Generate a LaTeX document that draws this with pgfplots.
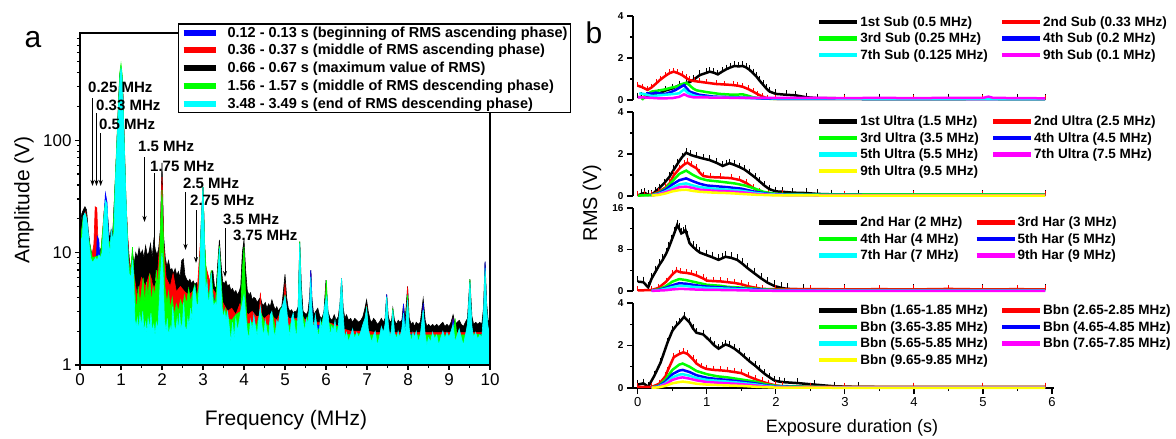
\documentclass[border=0pt]{standalone}
\usepackage{fontspec}
\setmainfont{Liberation Sans}
\usepackage{pgfplots}
\pgfplotsset{compat=1.18}
\usetikzlibrary{arrows.meta}
\definecolor{cblue}{RGB}{0,0,255}
\definecolor{cred}{RGB}{255,0,0}
\definecolor{cgreen}{RGB}{0,255,0}
\definecolor{ccyan}{RGB}{0,255,255}
\definecolor{cmag}{RGB}{255,0,255}
\definecolor{cyel}{RGB}{255,255,0}

% ---------- left panel spectra (frequency MHz, amplitude V) ----------
\pgfplotstableread{
f A
0.00 14
0.04 22
0.08 24
0.12 25.6
0.16 24
0.20 16
0.24 12
0.28 10
0.32 10
0.36 10.5
0.40 9.5
0.44 10
0.48 10.5
0.52 11
0.56 15
0.60 26
0.64 28
0.68 20
0.72 13
0.76 16
0.80 15
0.84 30
0.90 90
0.95 250
1.00 430
1.04 320
1.08 100
1.12 30
1.16 14
1.20 9
1.24 7
1.28 10
1.32 8
1.36 10
1.40 9
1.44 11
1.48 9.5
1.52 10.5
1.56 9
1.60 11.5
1.64 9.5
1.68 10
1.72 12
1.76 9
1.80 13
1.84 10.5
1.88 9.5
1.92 11
1.96 16
2.00 63
2.04 14
2.08 9
2.12 7.5
2.16 8.5
2.20 7
2.24 7.2
2.28 6.5
2.32 7.2
2.36 6.3
2.40 6.8
2.44 6.0
2.48 8.5
2.52 8.8
2.56 6.3
2.60 5.8
2.64 5.5
2.68 5.8
2.72 5.3
2.76 5.6
2.80 5.2
2.84 5.4
2.88 5.0
2.92 6.5
2.96 20
3.00 38
3.04 12
3.08 6
3.12 5.0
3.16 5.3
3.20 6.8
3.24 6.9
3.28 5.0
3.32 4.8
3.36 8
3.40 13
3.44 8
3.48 5.5
3.52 5.3
3.56 5.6
3.60 5.0
3.64 5.2
3.68 4.6
3.72 4.8
3.76 4.4
3.80 4.6
3.84 4.2
3.88 4.5
3.92 5.0
3.96 10
4.00 13
4.04 7
4.08 4.6
4.12 4.2
4.16 4.4
4.20 3.8
4.24 4.0
4.28 3.9
4.32 3.6
4.36 3.8
4.40 4.0
4.44 3.5
4.48 3.4
4.52 3.6
4.56 3.2
4.60 3.5
4.64 3.3
4.68 3.8
4.72 3.4
4.76 3.1
4.80 3.3
4.84 3.0
4.88 3.2
4.92 3.3
4.96 4.5
5.00 6.4
5.04 4.0
5.08 3.2
5.12 3.0
5.16 3.1
5.20 2.9
5.24 3.0
5.28 3.0
5.32 3.3
5.36 12.5
5.40 5
5.44 3.0
5.48 2.9
5.52 2.8
5.56 3.0
5.60 4.0
5.63 7.0
5.66 3.8
5.70 2.8
5.75 3.0
5.80 3.2
5.85 2.7
5.90 2.6
5.95 3.0
6.00 5.7
6.05 3.0
6.10 2.6
6.15 2.5
6.20 2.8
6.25 2.5
6.30 2.7
6.34 3.5
6.38 5.9
6.42 3.2
6.46 2.6
6.50 2.8
6.55 2.5
6.60 2.6
6.65 2.4
6.70 2.6
6.75 2.5
6.80 2.4
6.85 2.5
6.90 2.7
6.95 3.2
6.99 3.8
7.03 3.0
7.08 2.5
7.12 2.4
7.16 2.6
7.20 2.5
7.25 2.3
7.30 2.4
7.35 2.6
7.40 2.4
7.44 2.6
7.48 4.25
7.52 2.7
7.56 2.4
7.60 2.5
7.63 3.2
7.67 2.5
7.72 2.3
7.76 2.5
7.80 2.4
7.85 2.5
7.89 3.5
7.93 2.5
7.99 5.0
8.03 2.6
8.08 2.3
8.12 2.4
8.16 2.2
8.20 2.4
8.25 2.3
8.30 2.4
8.37 3.9
8.42 2.5
8.46 2.2
8.50 2.3
8.55 2.2
8.60 2.3
8.65 2.2
8.70 2.3
8.75 2.2
8.80 2.3
8.85 2.4
8.90 2.2
8.95 2.3
9.00 2.2
9.05 2.4
9.10 2.8
9.15 2.3
9.20 2.4
9.25 2.5
9.30 2.3
9.35 2.2
9.40 2.4
9.45 2.6
9.51 5.8
9.56 2.7
9.60 2.3
9.65 2.4
9.70 2.3
9.75 2.4
9.80 2.3
9.84 3.2
9.88 8.3
9.92 3.5
9.96 2.4
10.0 2.6
}\specblack

\pgfplotstableread{
f A
0.00 12
0.08 20
0.14 23
0.20 14
0.28 9
0.34 12
0.37 25.6
0.41 25
0.44 12
0.50 9
0.60 26
0.70 12
0.80 14
0.86 40
0.92 140
0.97 380
1.00 440
1.03 360
1.07 110
1.12 28
1.20 8
1.30 7
1.40 4
1.50 6
1.60 5
1.70 6.5
1.80 5
1.90 7
1.96 15
2.00 47
2.04 12
2.10 6
2.20 5
2.27 6.5
2.35 4.5
2.45 5
2.55 4.5
2.65 4.2
2.75 4.5
2.85 4
2.95 15
3.00 38
3.05 8
3.20 5
3.37 4
3.40 10
3.43 4
3.50 3.5
3.60 3
3.70 3.2
3.80 2.8
3.90 3.5
3.96 3
4.00 9
4.04 3
4.10 2.8
4.20 3
4.30 2.7
4.37 2.7
4.40 4.4
4.43 2.7
4.50 2.6
4.60 2.8
4.70 2.7
4.80 2.5
4.90 3.0
4.96 3
5.00 5.3
5.04 2.8
5.10 2.6
5.33 2.6
5.36 11
5.39 2.6
5.45 2.6
5.60 2.4
5.63 6.5
5.66 2.4
5.80 2.4
5.97 2.4
6.00 5
6.03 2.4
6.20 2.3
6.35 2.2
6.38 5.5
6.41 2.1
6.60 2.0
6.96 2.0
6.99 3.4
7.02 2.0
7.20 1.95
7.45 1.95
7.48 4.0
7.51 1.95
7.70 1.95
7.96 1.95
7.99 5.0
8.02 1.95
8.10 1.95
8.34 1.95
8.37 3.3
8.40 1.95
8.60 1.95
9.00 1.95
9.07 1.95
9.10 2.6
9.13 1.95
9.30 1.95
9.48 1.95
9.51 5.2
9.54 1.95
9.70 1.95
9.85 1.95
9.88 7
9.91 1.95
10.0 2.1
}\specred

\pgfplotstableread{
f A
0.00 11
0.08 19
0.14 21
0.20 14
0.28 9
0.36 8.8
0.40 9
0.42 14
0.46 13
0.48 9
0.50 9.5
0.56 15
0.62 33.8
0.66 28
0.70 12
0.80 14
0.86 40
0.92 140
0.97 380
1.00 420
1.03 350
1.07 100
1.12 25
1.20 7
1.30 6
1.34 2.2
1.45 2.6
1.52 1.9
1.60 2.5
1.70 2.3
1.80 2.0
1.90 3
1.97 6
2.00 9
2.04 4
2.10 2.0
2.20 2.3
2.30 1.9
2.40 2.5
2.50 2.0
2.60 2.4
2.70 2.2
2.80 3.5
2.90 4
2.95 15
3.00 38
3.05 8
3.10 4
3.20 5
3.30 3.5
3.37 4
3.40 10.5
3.43 4
3.50 2.8
3.60 2.4
3.70 2.2
3.80 2.0
3.90 2.6
3.96 3
4.00 4.9
4.04 2.6
4.10 2.2
4.30 2.1
4.60 2.0
4.80 2.1
4.96 2.4
5.00 4
5.04 2.2
5.10 2.0
5.32 2.0
5.36 11
5.40 2.4
5.45 2.3
5.59 2.2
5.63 7.0
5.67 2.3
5.70 2.3
5.96 2.2
6.00 4
6.04 2.1
6.10 2.0
6.34 2.0
6.38 5.5
6.42 1.8
6.50 1.8
6.95 1.8
6.99 3.2
7.03 1.8
7.20 1.8
7.44 1.8
7.48 4.25
7.52 1.9
7.55 1.8
7.85 1.8
7.89 3.5
7.93 1.9
8.33 1.8
8.37 3.55
8.41 1.8
8.45 1.8
9.06 1.8
9.10 2.6
9.14 1.8
9.20 1.8
9.47 1.8
9.51 5.3
9.55 1.8
9.60 1.8
9.84 1.9
9.88 8.3
9.92 2.2
9.95 1.9
10.0 2.1
}\specblue

\pgfplotstableread{
f A
0.00 12
0.08 21
0.14 22
0.20 14
0.30 9
0.50 9.5
0.60 25
0.70 12
0.80 14
0.86 45
0.92 150
0.97 400
1.00 480
1.03 380
1.07 120
1.12 30
1.18 9
1.22 6.5
1.25 8
1.28 11.2
1.31 7
1.34 4.5
1.38 3.0
1.42 5
1.46 3.5
1.50 4.5
1.54 6
1.58 3.5
1.62 5.5
1.66 4
1.70 6.5
1.74 3.5
1.78 5
1.82 4
1.86 7
1.90 5
1.94 9
1.97 20
2.00 36
2.03 15
2.07 5
2.12 3.5
2.16 4.5
2.20 3.2
2.25 4
2.30 2.8
2.35 3.5
2.40 3
2.45 3.8
2.50 3.3
2.55 4.2
2.60 3.5
2.65 4.8
2.70 3.6
2.75 4.5
2.80 5.2
2.85 4
2.90 5
2.95 15
3.00 38.5
3.04 12
3.10 5
3.15 4
3.20 7
3.25 4
3.30 3.5
3.36 6.5
3.40 11.5
3.45 5
3.50 2.8
3.55 3.2
3.60 2.6
3.70 2.5
3.80 2.8
3.92 3.0
3.96 7
4.00 11.2
4.04 4
4.08 2.3
4.20 2.4
4.30 2.2
4.40 3
4.50 2.4
4.60 2.2
4.70 2.8
4.80 1.8
4.90 3.2
4.96 2.6
5.00 4.2
5.04 2.4
5.10 2.2
5.20 2.6
5.32 2.4
5.36 12.5
5.40 3
5.50 2.3
5.60 3
5.70 2.2
5.80 2.0
5.90 2.4
5.97 3
6.01 5.7
6.05 2.4
6.20 2.2
6.34 2.2
6.38 5.5
6.42 1.9
6.60 1.85
6.80 1.9
6.95 1.85
6.99 3.3
7.03 1.85
7.30 1.85
7.44 1.85
7.48 4.0
7.52 1.9
7.60 1.85
7.63 3.2
7.66 1.85
7.95 1.85
7.99 4.2
8.03 1.85
8.33 1.85
8.37 3.0
8.41 1.85
8.70 1.85
9.00 1.85
9.11 1.85
9.15 2.6
9.19 1.85
9.30 1.85
9.47 1.85
9.51 5.8
9.55 1.9
9.84 1.85
9.88 6.5
9.92 1.9
10.0 2.1
}\specgreen

\pgfplotstableread{
f A
0.00 12
0.03 13
0.06 14
0.08 21
0.12 22.5
0.16 20
0.19 17
0.22 12
0.26 9
0.30 8.2
0.34 8.5
0.38 9
0.42 8.5
0.46 9.5
0.50 9
0.54 10
0.58 20
0.62 29
0.66 27
0.70 12
0.73 9.5
0.76 16
0.80 13
0.83 15
0.86 40
0.90 90
0.94 200
0.98 380
1.00 437
1.02 400
1.05 200
1.08 90
1.11 40
1.14 20
1.17 9
1.20 6.5
1.24 6
1.28 8.6
1.31 6
1.34 2.5
1.37 2.2
1.40 2.6
1.43 2.0
1.46 2.8
1.50 2.2
1.53 3.0
1.56 2.0
1.60 2.4
1.63 1.9
1.66 2.6
1.70 2.1
1.73 2.9
1.76 2.0
1.80 2.3
1.83 1.8
1.86 2.4
1.90 2.1
1.93 3.5
1.96 6
2.00 9.9
2.03 6
2.06 2.5
2.10 2.0
2.13 2.6
2.16 1.8
2.20 2.2
2.23 1.9
2.26 3.3
2.30 2.2
2.33 2.0
2.37 2.6
2.40 2.0
2.43 2.9
2.46 2.1
2.50 2.4
2.53 3.6
2.56 2.2
2.60 2.0
2.63 2.6
2.66 2.2
2.70 3.2
2.73 2.4
2.76 4.5
2.80 5
2.84 3.5
2.88 3.4
2.92 6
2.96 20
3.00 38.5
3.03 15
3.06 4.5
3.10 5.5
3.13 3.5
3.16 4
3.20 6.6
3.23 4
3.26 3.3
3.30 3.6
3.33 3.2
3.36 6
3.40 11
3.43 6
3.46 3.3
3.50 2.6
3.53 3.0
3.56 2.5
3.60 3.0
3.64 2.2
3.68 1.6
3.72 2.4
3.76 1.7
3.80 2.6
3.84 2.0
3.88 2.4
3.92 3.0
3.96 3.5
4.00 4.2
4.04 2.8
4.08 2.0
4.12 1.7
4.16 2.5
4.20 2.0
4.24 2.8
4.28 2.2
4.32 1.8
4.36 2.6
4.40 3.3
4.44 2.2
4.48 1.8
4.52 2.5
4.56 2.0
4.60 1.7
4.64 2.8
4.68 3.0
4.72 2.0
4.76 1.8
4.80 2.5
4.84 2.3
4.88 3.0
4.92 3.2
4.96 3.6
5.00 4.1
5.04 3.2
5.08 2.2
5.12 1.8
5.16 2.6
5.20 2.9
5.24 2.2
5.28 1.7
5.32 3.0
5.36 12.1
5.40 4
5.44 2.4
5.48 2.0
5.52 2.6
5.56 2.3
5.60 3.5
5.63 6.1
5.66 3
5.70 2.0
5.74 2.8
5.78 2.2
5.82 1.7
5.86 2.5
5.90 2.1
5.94 2.8
5.98 3.6
6.02 4.1
6.06 2.6
6.10 1.8
6.14 2.2
6.18 2.0
6.22 2.5
6.26 1.8
6.30 2.2
6.34 3.5
6.38 5.9
6.42 2.8
6.46 1.7
6.50 1.95
6.55 1.6
6.60 1.85
6.65 2.1
6.70 1.7
6.75 1.95
6.80 1.75
6.85 2.0
6.90 2.3
6.95 2.6
6.99 3.2
7.03 2.1
7.08 1.75
7.12 1.6
7.16 1.85
7.20 2.0
7.25 1.5
7.30 1.75
7.35 2.2
7.40 1.95
7.44 2.3
7.48 4.05
7.52 2.3
7.56 1.75
7.60 2.1
7.63 3.1
7.67 1.95
7.72 1.7
7.76 2.0
7.80 1.75
7.85 2.1
7.89 2.9
7.93 1.95
7.99 3.8
8.03 2.1
8.08 1.6
8.12 1.95
8.16 1.75
8.20 2.0
8.25 1.6
8.30 1.85
8.37 3.1
8.42 1.85
8.46 1.5
8.50 1.75
8.55 1.6
8.60 1.95
8.65 1.7
8.70 1.85
8.75 1.5
8.80 1.75
8.85 2.0
8.90 1.7
8.95 1.95
9.00 1.75
9.05 2.0
9.10 2.3
9.15 1.6
9.20 1.85
9.25 2.1
9.30 1.75
9.35 1.5
9.40 1.85
9.45 2.3
9.51 5.5
9.56 2.2
9.60 1.75
9.65 1.95
9.70 1.7
9.75 1.85
9.80 1.75
9.84 2.8
9.88 7.3
9.92 3.2
9.96 2.0
10.0 2.3
}\speccyan

\pgfplotsset{
  rsub/.style={scale only axis, width=421pt, height=84pt, xmin=-0.07, xmax=6.03, ymin=0,
    axis y line*=left, clip=false, no markers,
    tick align=outside, major tick length=6pt, minor tick length=3pt,
    tick style={line width=1.2pt, black}, axis line style={line width=1.5pt},
    yticklabel style={font=\fontsize{10}{12}\bfseries\selectfont},
    every axis plot/.append style={line width=2.5pt},
    legend columns=2, legend cell align=left,
    legend image code/.code={\draw[##1, line width=4.5pt] (0pt,0pt) -- (38pt,0pt);},
    legend style={draw=none, fill=none, anchor=north west, inner sep=0pt,
      font=\fontsize{13.5}{16}\bfseries\selectfont, row sep=3.6pt,
      nodes={inner sep=0.8pt},
      /tikz/every even column/.append style={column sep=11pt}}},
  ebar/.style={error bars/.cd, y dir=plus, y fixed=#1,
      error bar style={line width=1pt}, error mark options={line width=1pt, mark size=2.5pt}},
}

\begin{document}
\begin{tikzpicture}
\path[use as bounding box] (0pt,0pt) rectangle (1176pt,-439pt);

% ================= left panel =================
\begin{axis}[at={(80pt,-33pt)}, anchor=north west, scale only axis,
  width=410pt, height=332pt, ymode=log, ymin=1, ymax=900, xmin=0, xmax=10,
  axis on top, axis line style={line width=1.5pt},
  tick align=outside, xtick pos=bottom, ytick pos=left,
  major tick length=5pt, minor tick length=3pt, tick style={line width=1.2pt, black},
  xtick={0,1,2,3,4,5,6,7,8,9,10}, xticklabels={0,1,2,3,4,5,6,7,8,9,10},
  minor xtick={0.5,1.5,2.5,3.5,4.5,5.5,6.5,7.5,8.5,9.5},
  ytick={1,10,100}, yticklabels={1,10,100},
  minor ytick={2,3,4,5,6,7,8,9,20,30,40,50,60,70,80,90,200,300,400,500,600,700,800},
  ticklabel style={font=\fontsize{17}{19}\selectfont},
  legend cell align=left,
  legend image code/.code={\draw[#1, line width=6pt] (0pt,0pt) -- (32pt,0pt);},
  legend style={at={(0.239,1.03)}, anchor=north west, draw=black, line width=1.5pt,
    fill=white, inner sep=2pt, row sep=4.2pt,
    font=\fontsize{14.5}{16}\bfseries\selectfont, nodes={inner sep=0.8pt},
    /tikz/every odd column/.append style={column sep=8pt}},
]
\addplot[forget plot, fill=black, draw=black, line width=0.6pt] table[x=f,y=A] {\specblack} \closedcycle;
\addplot[forget plot, fill=cred, draw=cred, line width=0.6pt] table[x=f,y=A] {\specred} \closedcycle;
\addplot[forget plot, fill=cblue, draw=cblue, line width=0.6pt] table[x=f,y=A] {\specblue} \closedcycle;
\addplot[forget plot, fill=cgreen, draw=cgreen, line width=0.6pt] table[x=f,y=A] {\specgreen} \closedcycle;
\addplot[forget plot, fill=ccyan, draw=ccyan, line width=0.6pt] table[x=f,y=A] {\speccyan} \closedcycle;
\addlegendimage{cblue}
\addlegendentry{0.12 - 0.13 s (beginning of RMS ascending phase)}
\addlegendimage{cred}
\addlegendentry{0.36 - 0.37 s (middle of RMS ascending phase)}
\addlegendimage{black}
\addlegendentry{0.66 - 0.67 s (maximum value of RMS)}
\addlegendimage{cgreen}
\addlegendentry{1.56 - 1.57 s (middle of RMS descending phase)}
\addlegendimage{ccyan}
\addlegendentry{3.48 - 3.49 s (end of RMS descending phase)}
\end{axis}

% annotations
\begin{scope}[every node/.style={anchor=west, inner sep=0pt, font=\fontsize{15}{17}\bfseries\selectfont}]
\node at (88pt,-87pt) {0.25 MHz};
\node at (96pt,-105pt) {0.33 MHz};
\node at (99pt,-124pt) {0.5 MHz};
\node at (138pt,-146pt) {1.5 MHz};
\node at (150pt,-166pt) {1.75 MHz};
\node at (183pt,-183pt) {2.5 MHz};
\node at (190pt,-200pt) {2.75 MHz};
\node at (223pt,-219pt) {3.5 MHz};
\node at (233pt,-235pt) {3.75 MHz};
\end{scope}
\begin{scope}[line width=1pt, -{Stealth[length=6pt,width=4pt]}]
\draw (92.5pt,-98pt) -- (92.5pt,-186pt);
\draw (96.5pt,-113pt) -- (96.5pt,-186pt);
\draw (100.7pt,-133pt) -- (100.7pt,-186pt);
\draw (144.5pt,-157pt) -- (144.5pt,-222pt);
\draw (154pt,-173pt) -- (154pt,-287pt);
\draw (185.5pt,-192pt) -- (185.5pt,-250pt);
\draw (196pt,-210pt) -- (196pt,-263pt);
\draw (225pt,-228pt) -- (225pt,-277pt);
\end{scope}

\node[font=\fontsize{30}{32}\selectfont] at (33pt,-40pt) {a};
\node[font=\fontsize{21}{23}\selectfont] at (286pt,-420pt) {Frequency (MHz)};
\node[font=\fontsize{21}{23}\selectfont, rotate=90] at (24pt,-200pt) {Amplitude (V)};

% ================= right panel =================
\node[font=\fontsize{30}{32}\selectfont] at (594pt,-33pt) {b};
\node[font=\fontsize{20}{22}\selectfont, rotate=90] at (592pt,-203pt) {RMS (V)};
\node[font=\fontsize{18}{20}\selectfont] at (852pt,-428pt) {Exposure duration (s)};

% ---- Sub harmonics ----
\begin{axis}[rsub, axis x line=none, at={(633pt,-16pt)}, anchor=north west, ymax=4,
  ytick={0,2,4}, yticklabels={0,2,4}, minor ytick={1,3},
  legend style={at={(0.437,1.007)}}]
\addplot[black, ebar=0.1] coordinates {(0,0.13) (0.05,0.15) (0.1,0.1) (0.2,0.2) (0.3,0.3) (0.4,0.45) (0.5,0.55) (0.6,0.7) (0.7,0.8) (0.75,0.85) (0.8,0.95) (0.9,1.19) (1.0,1.3) (1.04,1.35) (1.1,1.3) (1.16,1.22) (1.22,1.35) (1.28,1.46) (1.34,1.55) (1.4,1.62) (1.46,1.6) (1.52,1.62) (1.57,1.55) (1.62,1.43) (1.67,1.28) (1.72,1.11) (1.77,0.9) (1.82,0.71) (1.87,0.52) (1.91,0.4) (2.0,0.29) (2.15,0.25) (2.29,0.22) (2.44,0.13) (2.6,0.09) (3,0.08) (3.5,0.08) (4,0.07) (4.5,0.08) (5,0.07) (5.5,0.06) (5.9,0.06)};
\addlegendentry{1st Sub (0.5 MHz)}
\addplot[cred, ebar=0.06] coordinates {(0,0.68) (0.07,0.6) (0.14,0.48) (0.2,0.6) (0.27,0.8) (0.33,0.98) (0.4,1.15) (0.46,1.28) (0.52,1.35) (0.58,1.28) (0.64,1.19) (0.7,1.05) (0.75,0.95) (0.82,0.9) (0.89,0.87) (1.0,0.82) (1.14,0.76) (1.26,0.74) (1.38,0.71) (1.45,0.68) (1.52,0.63) (1.6,0.52) (1.67,0.4) (1.74,0.27) (1.81,0.16) (1.88,0.08) (2,0.05) (3,0.05) (4,0.05) (5,0.05) (5.9,0.05)};
\addlegendentry{2nd Sub (0.33 MHz)}
\addplot[cgreen] coordinates {(0.06,0) (0.1,0.2) (0.2,0.4) (0.3,0.45) (0.4,0.51) (0.5,0.6) (0.56,0.63) (0.63,0.75) (0.7,0.82) (0.75,0.7) (0.8,0.55) (0.85,0.46) (0.99,0.38) (1.18,0.29) (1.38,0.25) (1.52,0.27) (1.6,0.2) (1.67,0.13) (1.8,0.07) (2,0.05) (3,0.05) (4,0.04) (5,0.05) (5.9,0.04)};
\addlegendentry{3rd Sub (0.25 MHz)}
\addplot[cblue] coordinates {(0.12,0.32) (0.2,0.3) (0.26,0.35) (0.33,0.3) (0.4,0.29) (0.48,0.38) (0.55,0.48) (0.61,0.6) (0.67,0.71) (0.71,0.55) (0.75,0.4) (0.82,0.32) (0.89,0.25) (1.1,0.16) (1.4,0.13) (1.6,0.1) (1.8,0.07) (2.2,0.05) (3,0.05) (4,0.04) (5,0.04) (5.9,0.04)};
\addlegendentry{4th Sub (0.2 MHz)}
\addplot[ccyan] coordinates {(0.02,0.32) (0.1,0.28) (0.2,0.19) (0.3,0.22) (0.4,0.25) (0.5,0.28) (0.6,0.32) (0.67,0.51) (0.72,0.35) (0.8,0.22) (0.89,0.16) (1.2,0.12) (1.6,0.1) (2,0.08) (3,0.07) (4,0.07) (5,0.06) (5.9,0.05)};
\addlegendentry{7th Sub (0.125 MHz)}
\addplot[cmag] coordinates {(0,0.13) (0.1,0.12) (0.2,0.1) (0.3,0.08) (0.4,0.08) (0.5,0.09) (0.6,0.15) (0.67,0.27) (0.73,0.18) (0.8,0.13) (1,0.12) (1.5,0.1) (2,0.1) (2.5,0.1) (3,0.09) (3.5,0.1) (4,0.09) (4.5,0.1) (5,0.1) (5.08,0.16) (5.15,0.1) (5.9,0.08)};
\addlegendentry{9th Sub (0.1 MHz)}
\end{axis}

% ---- Ultra harmonics ----
\begin{axis}[rsub, axis x line=none, at={(633pt,-112pt)}, anchor=north west, ymax=4,
  ytick={0,2,4}, yticklabels={0,2,4}, minor ytick={1,3},
  legend style={at={(0.437,0.964)}}]
\addplot[black, ebar=0.1] coordinates {(0,0.02) (0.05,0.1) (0.1,0.15) (0.15,0.05) (0.2,0.05) (0.25,0.2) (0.31,0.37) (0.38,0.6) (0.46,0.92) (0.52,1.25) (0.58,1.56) (0.64,1.85) (0.7,2.06) (0.77,1.95) (0.85,1.87) (0.95,1.78) (1.04,1.71) (1.14,1.58) (1.23,1.43) (1.28,1.5) (1.33,1.56) (1.4,1.48) (1.48,1.37) (1.55,1.25) (1.62,1.08) (1.7,0.88) (1.77,0.68) (1.84,0.48) (1.91,0.32) (2.0,0.22) (2.1,0.2) (2.24,0.16) (2.44,0.14) (2.6,0.1) (2.8,0.08) (3.2,0.07) (4,0.06) (5,0.06) (5.9,0.05)};
\addlegendentry{1st Ultra (1.5 MHz)}
\addplot[cred, ebar=0.08] coordinates {(0,0.02) (0.1,0.05) (0.2,0.05) (0.3,0.2) (0.4,0.4) (0.46,0.6) (0.52,0.98) (0.6,1.3) (0.67,1.5) (0.72,1.59) (0.78,1.45) (0.85,1.32) (0.9,1.1) (0.95,0.95) (1.05,0.9) (1.2,0.88) (1.35,0.85) (1.48,0.76) (1.58,0.6) (1.68,0.37) (1.77,0.2) (1.9,0.1) (2.1,0.07) (3,0.06) (4,0.05) (5,0.05) (5.9,0.05)};
\addlegendentry{2nd Ultra (2.5 MHz)}
\addplot[cgreen] coordinates {(0,0.02) (0.2,0.04) (0.3,0.15) (0.4,0.35) (0.5,0.7) (0.6,1.05) (0.7,1.21) (0.8,1.0) (0.9,0.84) (1.0,0.75) (1.2,0.68) (1.4,0.6) (1.55,0.5) (1.68,0.37) (1.82,0.2) (2.0,0.1) (2.5,0.08) (3.5,0.08) (4.5,0.08) (5.9,0.07)};
\addlegendentry{3rd Ultra (3.5 MHz)}
\addplot[cblue] coordinates {(0.2,0.03) (0.3,0.12) (0.4,0.3) (0.5,0.55) (0.6,0.75) (0.7,0.84) (0.8,0.7) (0.9,0.58) (1.0,0.5) (1.3,0.42) (1.5,0.35) (1.7,0.2) (1.9,0.1) (2.2,0.05) (3,0.05) (4,0.04) (5,0.04) (5.9,0.04)};
\addlegendentry{4th Ultra (4.5 MHz)}
\addplot[ccyan] coordinates {(0.2,0.03) (0.3,0.1) (0.4,0.22) (0.5,0.4) (0.6,0.55) (0.7,0.6) (0.8,0.5) (0.9,0.42) (1.1,0.35) (1.3,0.3) (1.5,0.25) (1.7,0.15) (1.9,0.08) (2.2,0.05) (3,0.04) (4,0.04) (5,0.04) (5.9,0.04)};
\addlegendentry{5th Ultra (5.5 MHz)}
\addplot[cmag] coordinates {(0.2,0.02) (0.3,0.08) (0.4,0.18) (0.5,0.3) (0.6,0.42) (0.7,0.45) (0.8,0.38) (0.9,0.3) (1.1,0.25) (1.3,0.22) (1.5,0.18) (1.7,0.1) (1.9,0.06) (2.2,0.04) (3,0.03) (4,0.03) (5,0.03) (5.9,0.03)};
\addlegendentry{7th Ultra (7.5 MHz)}
\addplot[cyel] coordinates {(0.2,0.02) (0.3,0.05) (0.4,0.12) (0.5,0.22) (0.6,0.28) (0.7,0.3) (0.8,0.24) (0.9,0.2) (1.1,0.16) (1.3,0.14) (1.5,0.1) (1.7,0.06) (2,0.03) (3,0.02) (4,0.02) (5,0.02) (5.9,0.02)};
\addlegendentry{9th Ultra (9.5 MHz)}
\end{axis}

% ---- Harmonics ----
\begin{axis}[rsub, axis x line=none, at={(633pt,-208pt)}, anchor=north west, height=83pt, ymax=16,
  ytick={0,8,16}, yticklabels={0,8,16}, minor ytick={4,12},
  legend style={at={(0.437,0.904)}}]
\addplot[black, ebar=0.6] coordinates {(0,1.8) (0.08,1.7) (0.15,0.7) (0.2,2.4) (0.26,3.8) (0.31,5.0) (0.36,6.0) (0.41,7.2) (0.45,8.4) (0.49,9.8) (0.53,11.2) (0.57,12.7) (0.6,12.0) (0.63,11.1) (0.66,11.3) (0.69,11.7) (0.72,10.5) (0.75,9.2) (0.8,8.5) (0.85,7.9) (0.9,7.4) (1.0,6.9) (1.08,6.5) (1.17,6.0) (1.22,6.3) (1.27,6.6) (1.35,6.4) (1.44,6.0) (1.52,5.2) (1.59,4.4) (1.69,3.4) (1.79,2.4) (1.88,1.6) (1.98,0.96) (2.08,0.6) (2.17,0.4) (2.4,0.3) (3,0.25) (4,0.22) (5,0.2) (5.9,0.2)};
\addlegendentry{2nd Har (2 MHz)}
\addplot[cred, ebar=0.3] coordinates {(0,0.1) (0.2,0.2) (0.3,0.6) (0.41,1.8) (0.5,3.2) (0.56,3.9) (0.62,3.6) (0.7,3.5) (0.78,3.3) (0.85,3.0) (0.95,2.4) (1.0,2.0) (1.1,1.9) (1.2,1.85) (1.3,1.7) (1.4,1.55) (1.5,1.3) (1.6,0.9) (1.72,0.6) (1.8,0.4) (2.0,0.35) (2.5,0.38) (3,0.3) (3.5,0.35) (4,0.3) (4.5,0.4) (5,0.3) (5.5,0.35) (5.9,0.3)};
\addlegendentry{3rd Har (3 MHz)}
\addplot[cgreen] coordinates {(0.2,0.1) (0.3,0.3) (0.4,0.9) (0.5,1.8) (0.6,2.3) (0.7,2.1) (0.8,1.8) (0.9,1.5) (1.0,1.2) (1.2,1.0) (1.3,0.8) (1.5,0.65) (1.65,0.5) (1.8,0.35) (2.0,0.2) (3,0.15) (4,0.15) (5,0.15) (5.9,0.15)};
\addlegendentry{4th Har (4 MHz)}
\addplot[cblue] coordinates {(0.2,0.05) (0.3,0.2) (0.4,0.6) (0.5,1.1) (0.6,1.5) (0.7,1.4) (0.8,1.2) (0.9,1.0) (1.0,0.85) (1.2,0.7) (1.4,0.55) (1.6,0.4) (1.8,0.25) (2.0,0.12) (3,0.08) (4,0.08) (5,0.08) (5.9,0.08)};
\addlegendentry{5th Har (5 MHz)}
\addplot[ccyan] coordinates {(0.2,0.05) (0.3,0.15) (0.4,0.4) (0.5,0.75) (0.6,1.0) (0.7,0.95) (0.8,0.8) (1.0,0.6) (1.2,0.5) (1.4,0.4) (1.6,0.28) (1.8,0.15) (2.0,0.08) (3,0.05) (4,0.05) (5,0.05) (5.9,0.05)};
\addlegendentry{7th Har (7 MHz)}
\addplot[cmag] coordinates {(0.2,0.02) (0.4,0.15) (0.5,0.3) (0.6,0.4) (0.7,0.38) (0.8,0.3) (1.0,0.22) (1.3,0.18) (1.6,0.1) (2.0,0.04) (3,0.03) (4,0.03) (5,0.03) (5.9,0.03)};
\addlegendentry{9th Har (9 MHz)}
\end{axis}

% ---- Broadband noise ----
\begin{axis}[rsub, at={(633pt,-303pt)}, anchor=north west, height=85pt, ymax=4,
  ytick={0,2,4}, yticklabels={0,2,4}, minor ytick={1,3},
  axis x line*=bottom, xtick={0,1,2,3,4,5,6}, xticklabels={0,1,2,3,4,5,6},
  minor xtick={0.5,1.5,2.5,3.5,4.5,5.5},
  xticklabel style={font=\fontsize{13}{15}\selectfont},
  legend style={at={(0.437,0.988)}}]
\addplot[black, ebar=0.1] coordinates {(0,0.16) (0.08,0.22) (0.15,0.06) (0.24,0.58) (0.33,1.2) (0.43,2.14) (0.5,2.69) (0.56,2.95) (0.6,3.08) (0.67,3.35) (0.75,3.08) (0.8,2.8) (0.85,2.6) (0.95,2.52) (1.05,2.2) (1.11,2.0) (1.17,1.85) (1.22,1.95) (1.27,2.05) (1.33,1.98) (1.4,1.85) (1.48,1.65) (1.55,1.45) (1.62,1.25) (1.7,1.05) (1.77,0.85) (1.84,0.66) (1.91,0.5) (1.98,0.35) (2.05,0.3) (2.13,0.27) (2.32,0.23) (2.56,0.16) (2.85,0.08) (3.2,0.05) (4,0.04) (5,0.04) (5.9,0.04)};
\addlegendentry{Bbn (1.65-1.85 MHz)}
\addplot[cred, ebar=0.08] coordinates {(0,0.05) (0.2,0.05) (0.31,0.2) (0.4,0.55) (0.43,0.8) (0.52,1.45) (0.6,1.6) (0.66,1.68) (0.72,1.6) (0.8,1.35) (0.85,1.15) (0.92,1.0) (0.99,0.9) (1.1,0.85) (1.2,0.83) (1.3,0.8) (1.4,0.75) (1.5,0.7) (1.6,0.55) (1.7,0.42) (1.8,0.3) (1.9,0.2) (2.0,0.12) (2.1,0.08) (2.5,0.06) (3,0.05) (4,0.05) (5,0.05) (5.9,0.05)};
\addlegendentry{Bbn (2.65-2.85 MHz)}
\addplot[cgreen] coordinates {(0.2,0.03) (0.3,0.1) (0.4,0.4) (0.5,0.85) (0.6,1.1) (0.65,1.15) (0.75,1.0) (0.85,0.8) (1.0,0.65) (1.15,0.55) (1.3,0.5) (1.5,0.4) (1.7,0.3) (1.85,0.18) (2.0,0.1) (2.5,0.05) (3,0.04) (4,0.04) (5,0.04) (5.9,0.04)};
\addlegendentry{Bbn (3.65-3.85 MHz)}
\addplot[cblue] coordinates {(0.2,0.02) (0.3,0.08) (0.4,0.3) (0.5,0.65) (0.6,0.82) (0.65,0.85) (0.75,0.75) (0.85,0.6) (1.0,0.48) (1.15,0.42) (1.3,0.38) (1.5,0.3) (1.7,0.22) (1.85,0.13) (2.0,0.07) (2.5,0.04) (3,0.03) (4,0.03) (5,0.03) (5.9,0.03)};
\addlegendentry{Bbn (4.65-4.85 MHz)}
\addplot[ccyan] coordinates {(0.2,0.02) (0.3,0.06) (0.4,0.22) (0.5,0.5) (0.6,0.63) (0.65,0.65) (0.75,0.58) (0.85,0.47) (1.0,0.38) (1.3,0.3) (1.5,0.24) (1.7,0.17) (1.85,0.1) (2.0,0.05) (3,0.03) (4,0.03) (5,0.03) (5.9,0.03)};
\addlegendentry{Bbn (5.65-5.85 MHz)}
\addplot[cmag] coordinates {(0.2,0.02) (0.3,0.05) (0.4,0.18) (0.5,0.38) (0.6,0.48) (0.65,0.5) (0.75,0.44) (0.85,0.36) (1.0,0.28) (1.3,0.22) (1.5,0.18) (1.7,0.12) (1.85,0.07) (2.0,0.04) (3,0.02) (4,0.02) (5,0.02) (5.9,0.02)};
\addlegendentry{Bbn (7.65-7.85 MHz)}
\addplot[cyel] coordinates {(0.2,0.01) (0.3,0.03) (0.4,0.1) (0.5,0.22) (0.6,0.28) (0.65,0.3) (0.75,0.26) (0.85,0.2) (1.0,0.16) (1.3,0.12) (1.5,0.1) (1.7,0.06) (1.85,0.04) (2.0,0.02) (3,0.01) (5.9,0.01)};
\addlegendentry{Bbn (9.65-9.85 MHz)}
\end{axis}
\end{tikzpicture}
\end{document}
